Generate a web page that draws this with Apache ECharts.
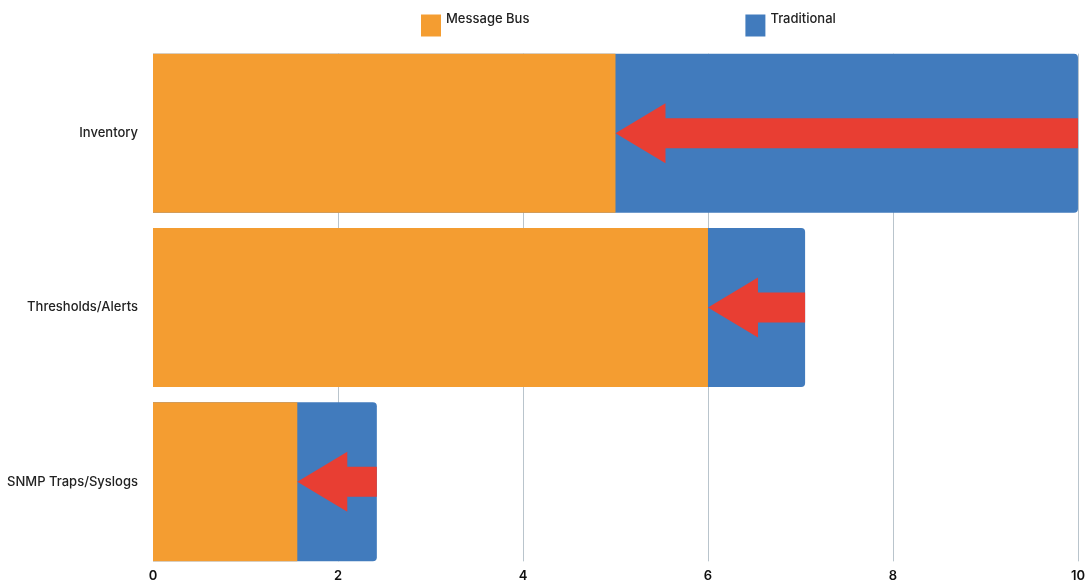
<!DOCTYPE html>
<html>
<head>
<meta charset="utf-8">
<script src="https://cdn.jsdelivr.net/npm/echarts@6/dist/echarts.min.js"></script>
<style>html,body{margin:0;padding:0;background:#fff}#c{width:1088px;height:583px}</style>
</head>
<body>
<div id="c"></div>
<script>
var categories = ['Inventory', 'Thresholds/Alerts', 'SNMP Traps/Syslogs'];
var messageBus = [5, 6, 1.56];
var traditional = [10, 7.05, 2.42];
var xTicks = [0, 2, 4, 6, 8, 10];

var BAR_W = 159;
var chart = echarts.init(document.getElementById('c'));
var arrowData = categories.map(function (c, i) { return [traditional[i], messageBus[i], i]; });
var gridData = xTicks.slice(1).map(function (v) { return [v, 0]; });

chart.setOption({
  animation: false,
  textStyle: { fontFamily: 'Inter' },
  legend: {
    data: ['Message Bus', 'Traditional'],
    top: 13,
    left: 421,
    padding: 0,
    itemWidth: 20,
    itemHeight: 22,
    itemGap: 216,
    icon: 'rect',
    formatter: function (n) { return '{a|' + n + '}\n{b| }'; },
    textStyle: {
      fontFamily: 'Inter', fontSize: 13, fontWeight: 500, color: '#222',
      rich: {
        a: { fontFamily: 'Inter', fontSize: 13, fontWeight: 500, color: '#222', lineHeight: 16 },
        b: { fontSize: 1, lineHeight: 12 }
      }
    }
  },
  grid: { left: 153, right: 10, top: 46, bottom: 12 },
  xAxis: {
    type: 'value', min: xTicks[0], max: xTicks[xTicks.length - 1], interval: 2,
    axisLine: { show: false }, axisTick: { show: false },
    splitLine: { show: false },
    axisLabel: { margin: 1, fontSize: 13, fontWeight: 600, color: '#111', fontFamily: 'Inter' }
  },
  yAxis: {
    type: 'category', data: categories, inverse: true,
    axisLine: { show: false }, axisTick: { show: false },
    axisLabel: { margin: 15, fontSize: 13, fontWeight: 500, color: '#222', fontFamily: 'Inter' }
  },
  series: [
    {
      type: 'custom', z: 0, silent: true,
      data: gridData,
      encode: { x: 0, y: 1 },
      renderItem: function (params, api) {
        var v = api.value(0);
        var top = api.coord([v, 0]);
        var bot = api.coord([v, categories.length - 1]);
        return {
          type: 'line',
          shape: { x1: Math.round(top[0]) + 0.5, y1: top[1] - BAR_W / 2, x2: Math.round(top[0]) + 0.5, y2: bot[1] + BAR_W / 2 },
          style: { stroke: '#b9c4cc', lineWidth: 1 }
        };
      }
    },
    {
      name: 'Traditional', type: 'bar', data: traditional, barWidth: BAR_W, barGap: '-100%',
      itemStyle: { color: '#417BBD', borderRadius: [0, 4, 4, 0] }, z: 1
    },
    {
      name: 'Message Bus', type: 'bar', data: messageBus, barWidth: BAR_W,
      itemStyle: { color: '#F49D31' }, z: 2
    },
    {
      type: 'custom', z: 5, silent: true,
      data: arrowData,
      encode: { x: [0, 1], y: 2 },
      renderItem: function (params, api) {
        var idx = api.value(2);
        var s = api.coord([api.value(0), idx]);
        var e = api.coord([api.value(1), idx]);
        var y = s[1], xs = s[0], xe = e[0];
        var head = 50, hh = 30, sh = 15;
        var hb = xe + head;
        return {
          type: 'polygon',
          shape: { points: [[xe, y], [hb, y - hh], [hb, y - sh], [xs, y - sh], [xs, y + sh], [hb, y + sh], [hb, y + hh]] },
          style: { fill: '#E83E33' }
        };
      }
    }
  ]
});
</script>
</body>
</html>
